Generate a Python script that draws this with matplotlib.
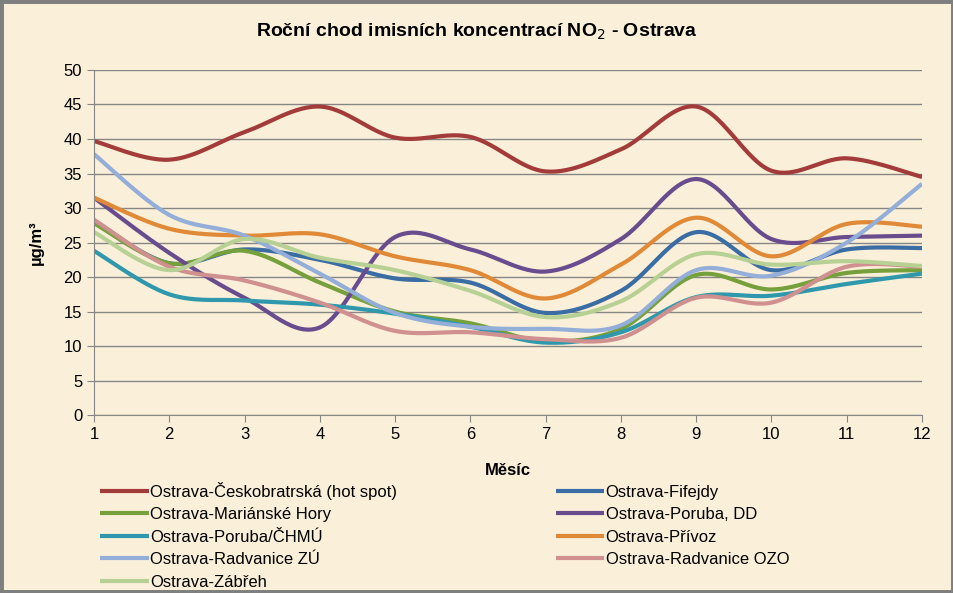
import numpy as np
import matplotlib
matplotlib.use("Agg")
import matplotlib.pyplot as plt
from matplotlib.patches import Rectangle

plt.rcParams["font.family"] = ["Liberation Sans", "DejaVu Sans"]

months = list(range(1, 13))

ceskobratrska = [39.7, 37.0, 41.0, 44.7, 40.2, 40.3, 35.3, 38.5, 44.7, 35.4, 37.2, 34.5]
fifejdy = [28.2, 22.0, 24.0, 22.5, 19.8, 19.2, 14.8, 18.0, 26.5, 21.0, 24.0, 24.2]
marianske = [27.8, 22.0, 23.8, 19.2, 15.0, 13.3, 10.7, 12.5, 20.3, 18.2, 20.6, 21.0]
poruba_dd = [31.5, 23.5, 17.0, 12.7, 25.8, 24.0, 20.8, 25.5, 34.2, 25.5, 25.8, 26.0]
poruba_chmu = [23.8, 17.5, 16.6, 16.0, 14.7, 12.8, 10.5, 12.0, 17.1, 17.3, 19.0, 20.5]
privoz = [31.5, 27.0, 26.0, 26.2, 23.0, 21.0, 16.9, 21.8, 28.6, 23.0, 27.7, 27.3]
radvanice_zu = [37.8, 29.0, 26.0, 20.5, 14.8, 12.8, 12.5, 13.0, 21.0, 20.2, 25.0, 33.5]
radvanice_ozo = [28.3, 21.5, 19.5, 16.3, 12.2, 12.0, 11.0, 11.2, 17.0, 16.3, 21.5, 21.5]
zabreh = [26.5, 21.0, 25.5, 22.8, 21.0, 18.0, 14.2, 16.5, 23.3, 21.8, 22.3, 21.6]

series = [
    ("Ostrava-Českobratrská (hot spot)", ceskobratrska, "#A33B3A"),
    ("Ostrava-Fifejdy", fifejdy, "#3A6DA3"),
    ("Ostrava-Mariánské Hory", marianske, "#76A03C"),
    ("Ostrava-Poruba, DD", poruba_dd, "#684C8E"),
    ("Ostrava-Poruba/ČHMÚ", poruba_chmu, "#2F98AD"),
    ("Ostrava-Přívoz", privoz, "#E08A37"),
    ("Ostrava-Radvanice ZÚ", radvanice_zu, "#93AED8"),
    ("Ostrava-Radvanice OZO", radvanice_ozo, "#CF908F"),
    ("Ostrava-Zábřeh", zabreh, "#B7D195"),
]


def smooth(x, y, n=30):
    # Bezier smoothing like the spreadsheet "smoothed line"
    x = np.asarray(x, float)
    y = np.asarray(y, float)
    px = np.concatenate([[x[0]], x, [x[-1]]])
    py = np.concatenate([[y[0]], y, [y[-1]]])
    xs, ys = [], []
    t = np.linspace(0, 1, n)
    for i in range(len(x) - 1):
        p0 = np.array([px[i + 1], py[i + 1]])
        p3 = np.array([px[i + 2], py[i + 2]])
        p1 = p0 + (np.array([px[i + 2], py[i + 2]]) - np.array([px[i], py[i]])) / 6
        p2 = p3 - (np.array([px[i + 3], py[i + 3]]) - np.array([px[i + 1], py[i + 1]])) / 6
        b = (np.outer((1 - t) ** 3, p0) + np.outer(3 * (1 - t) ** 2 * t, p1)
             + np.outer(3 * (1 - t) * t ** 2, p2) + np.outer(t ** 3, p3))
        xs.extend(b[:, 0])
        ys.extend(b[:, 1])
    return xs, ys


bg = "#FAEFD9"
fig = plt.figure(figsize=(9.54, 5.93), dpi=100, facecolor=bg)
ax = fig.add_axes([0.0985, 0.30, 0.868, 0.582])
ax.set_facecolor(bg)

handles = {}
for name, vals, color in series:
    sx, sy = smooth(months, vals)
    (ln,) = ax.plot(sx, sy, color=color, lw=3.0, solid_capstyle="butt", label=name)
    handles[name] = ln

ax.set_xlim(1, 12)
ax.set_ylim(0, 50)
ax.set_xticks(months)
ax.set_yticks(range(0, 51, 5))
ax.grid(axis="y", color="#868686", lw=1.0)
ax.set_axisbelow(True)
for s in ["top", "right"]:
    ax.spines[s].set_visible(False)
for s in ["left", "bottom"]:
    ax.spines[s].set_color("#868686")
ax.tick_params(colors="#868686", labelcolor="black", labelsize=12, length=5)

ax.set_xlabel("Měsíc", fontsize=12, fontweight="bold", labelpad=15)
ax.set_ylabel("µg/m³", fontsize=12, fontweight="bold", labelpad=14)
fig.text(0.5, 0.946, "Roční chod imisních koncentrací NO$_2$ - Ostrava", fontsize=14,
         fontweight="bold", ha="center", va="center")

order = [0, 2, 4, 6, 8, 1, 3, 5, 7]
hl = [handles[series[i][0]] for i in order]
fig.legend(hl, [h.get_label() for h in hl], ncol=2, frameon=False,
           loc="upper left", bbox_to_anchor=(0.105, 0.188), borderpad=0,
           borderaxespad=0, fontsize=12, handlelength=2.9, handletextpad=0.1,
           columnspacing=9.5, labelspacing=0.45)

fig.add_artist(Rectangle((0, 0), 1, 1, transform=fig.transFigure, fill=False,
                         edgecolor="#7F7F7F", lw=5))

fig.savefig("out.png", dpi=100, facecolor=bg)
